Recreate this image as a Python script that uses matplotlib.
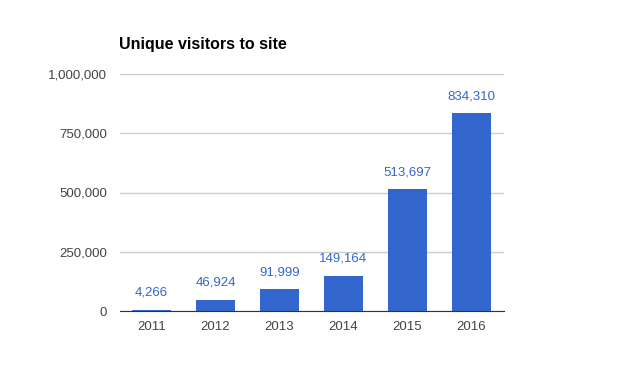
import matplotlib
matplotlib.use("Agg")
import matplotlib.pyplot as plt
from matplotlib.ticker import FuncFormatter

plt.rcParams["font.family"] = ["Liberation Sans", "DejaVu Sans"]

years = ["2011", "2012", "2013", "2014", "2015", "2016"]
visitors = [4266, 46924, 91999, 149164, 513697, 834310]
y_ticks = [0, 250000, 500000, 750000, 1000000]

BLUE = "#3366cc"

fig = plt.figure(figsize=(6.22, 3.85), dpi=100)
ax = fig.add_axes([119.5 / 622, 1 - 311 / 385, 384 / 622, 237 / 385])

x = range(len(years))
ax.bar(x, visitors, width=39 / 64, color=BLUE, zorder=3)

for xi, v in zip(x, visitors):
    ax.annotate(f"{v:,}", (xi, v), xytext=(0, 8), textcoords="offset points",
                ha="center", va="bottom", color=BLUE, fontsize=9.5)

ax.set_xlim(-0.5, len(years) - 0.5)
ax.set_ylim(0, 1000000)
ax.set_yticks(y_ticks)
ax.yaxis.set_major_formatter(FuncFormatter(lambda v, p: f"{int(v):,}"))
ax.set_xticks(list(x))
ax.set_xticklabels(years)

ax.grid(axis="y", color="#cccccc", lw=1, zorder=0)
for s in ["top", "right", "left"]:
    ax.spines[s].set_visible(False)
ax.spines["bottom"].set_color("#333333")
ax.spines["bottom"].set_zorder(4)
ax.tick_params(axis="both", length=0, labelsize=9.5, labelcolor="#444444")
ax.tick_params(axis="y", pad=9)
ax.tick_params(axis="x", pad=7)

fig.text(119 / 622, 1 - 45 / 385, "Unique visitors to site", fontsize=11.5,
         fontweight="bold", ha="left", va="center", color="#000000")

fig.savefig("out.png", dpi=100)
